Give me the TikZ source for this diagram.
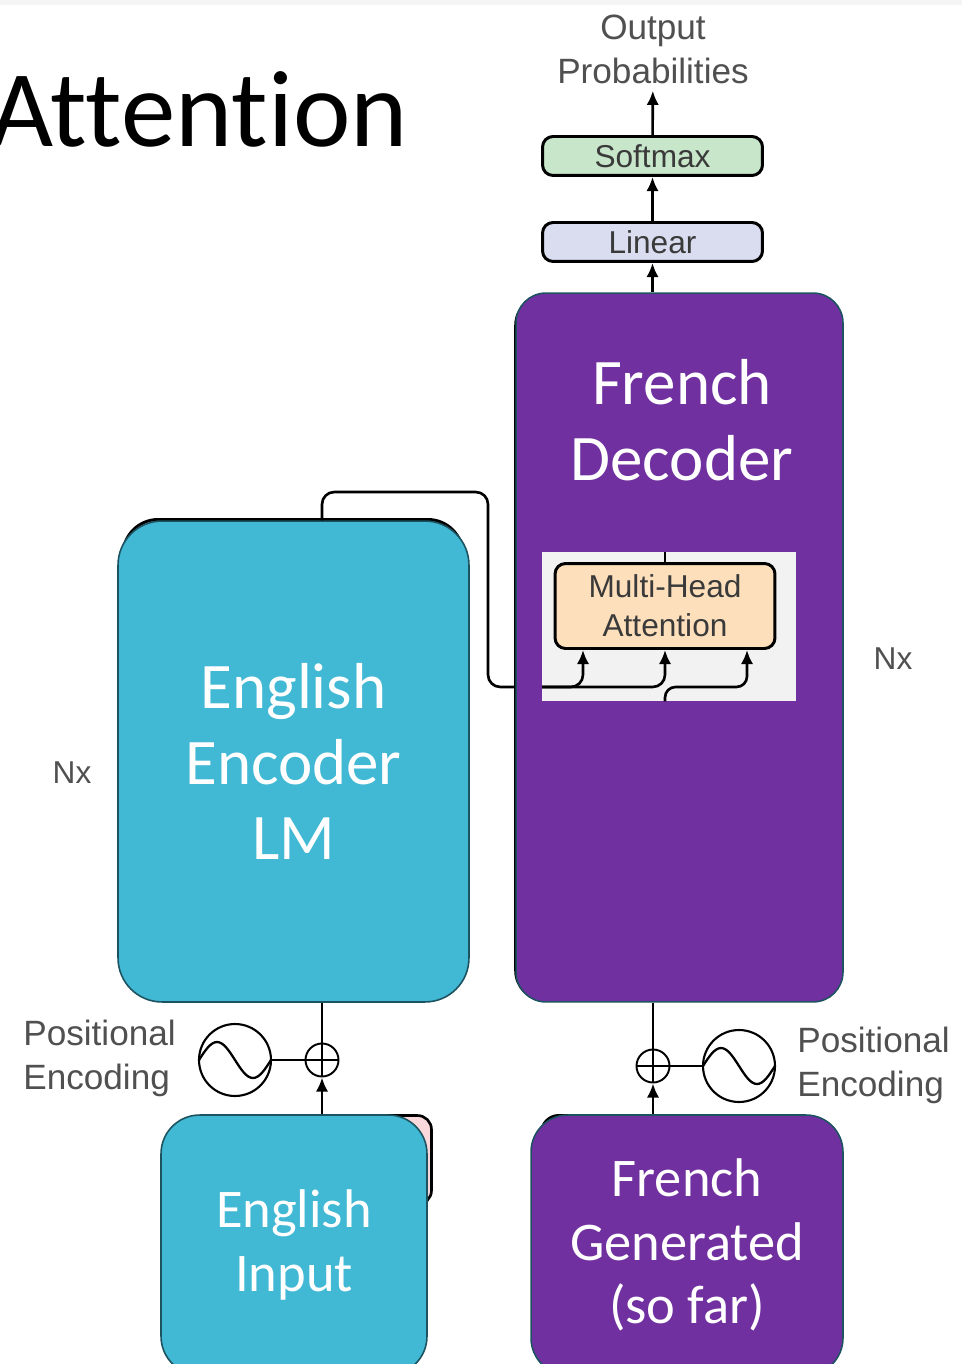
\documentclass[tikz,border=0pt]{standalone}
\usepackage{fontspec}
\setmainfont{Carlito}[Ligatures=NoCommon]
\newfontfamily\helv{Liberation Sans}
\usetikzlibrary{shapes,arrows.meta}
\usetikzlibrary{positioning}
\usetikzlibrary{calc}
\definecolor{enccol}{HTML}{41B8D4}
\definecolor{deccol}{HTML}{7030A0}
\definecolor{edgecol}{HTML}{1D5360}
\definecolor{softcol}{HTML}{C8E6CA}
\definecolor{lincol}{HTML}{DADDF0}
\definecolor{mhacol}{HTML}{FDE0BB}
\definecolor{panelcol}{HTML}{F2F2F2}
\definecolor{embcol}{HTML}{F9D9DB}
\definecolor{txtgray}{HTML}{3A3A3A}
\definecolor{labgray}{HTML}{505050}
\tikzstyle{block} = [draw=edgecol, line width=0.9pt, inner sep=0pt, align=center, text=white]
\tikzstyle{small} = [draw=black, line width=1.7pt, rounded corners=6pt, inner sep=0pt,
minimum width=4.40cm, minimum height=0.78cm, font=\helv\fontsize{18}{22}\selectfont, text=txtgray]
\tikzstyle{line} = [draw, -{Latex[length=8pt,width=7pt]}, line width=1.5pt]
\tikzstyle{wire} = [draw, line width=1.5pt]

\begin{document}
\begin{tikzpicture}[x=0.02cm, y=-0.02cm,
	adder/.style={draw, circle, line width=1.1pt, minimum size=0.66cm, inner sep=0pt,
		path picture={\draw[line width=1.1pt] (path picture bounding box.north) -- (path picture bounding box.south)
			(path picture bounding box.west) -- (path picture bounding box.east);}},
	wave/.style={draw, circle, line width=1.2pt, minimum size=1.44cm, inner sep=0pt,
		path picture={\draw[line width=1.3pt, shift={(path picture bounding box.center)}]
			(-0.72cm,0cm) sin (-0.36cm,0.36cm) cos (0cm,0cm) sin (0.36cm,-0.36cm) cos (0.72cm,0cm);}},
	label/.style={font=\helv\fontsize{20}{25}\selectfont, text=labgray, inner sep=0pt}]
	\useasboundingbox (0,0) rectangle (962,1364);
	\clip (0,0) rectangle (962,1364);
	\fill[white] (0,0) rectangle (962,1364);
	\fill[gray!8] (0,0) rectangle (962,5);
	\node[anchor=base east, inner sep=0pt, font=\fontsize{62}{72}\selectfont] (title) at (408,147) {Attention};
	%% Output stack
	\node[label, align=center] (outprob) at (653,49) {Output\\Probabilities};
	\node[small, fill=softcol] (softmax) at (652.5,156) {Softmax};
	\node[small, fill=lincol] (linear) at (652.5,242) {Linear};
	%% Encoder input side
	\node[adder] (encplus) at (322,1060) {};
	\node[wave] (encwave) at (235,1060) {};
	\node[label, align=left, anchor=west] (encpos) at (23,1058) {Positional\\Encoding};
	\node[draw=black, line width=1.5pt, fill=embcol, rounded corners=8pt,
		minimum width=4.3cm, minimum height=1.78cm] (encemb) at (324,1160) {};
	\node[block, fill=enccol, rounded corners=22pt, minimum width=5.32cm, minimum height=5.2cm,
		font=\fontsize{31}{36}\selectfont] (input) at (294,1245) {English\\Input};
	%% Decoder input side
	\node[adder] (decplus) at (653,1066) {};
	\node[wave] (decwave) at (739,1066) {};
	\node[label, align=left, anchor=west] (decpos) at (797,1065) {Positional\\Encoding};
	\node[draw=black, line width=1.5pt, fill=embcol, rounded corners=10pt, anchor=north west,
		minimum width=5cm, minimum height=1.8cm] (genemb) at (540,1114) {};
	\node[block, fill=deccol, rounded corners=21pt, minimum width=6.24cm, minimum height=5.2cm,
		font=\fontsize{31}{36}\selectfont] (gen) at (687,1245) {French\\Generated\\(so far)};
	%% Encoder
	\node[draw=black, line width=1.7pt, fill=white, rounded corners=20pt, anchor=north,
		minimum width=6.8cm, minimum height=8cm] (encback) at (293,518) {};
	\node[block, fill=enccol, rounded corners=25pt, minimum width=7.02cm, minimum height=9.62cm,
		font=\fontsize{37}{43}\selectfont] (enc) at (293.5,761.5) {English\\Encoder\\LM};
	\node[font=\helv\fontsize{18}{22}\selectfont, text=labgray] (encnx) at (72,773) {Nx};
	%% Encoder to attention (behind decoder)
	\coordinate (hop) at (488,492);
	\coordinate (mhain) at (542,687);
	\path [wire, rounded corners=7pt] (enc.north -| encplus) |- (hop) |- (mhain);
	%% Decoder
	\node[draw=black, line width=1.5pt, rounded corners=17pt,
		minimum width=6.5cm, minimum height=14.1cm] (decback) at (678,648) {};
	\node[block, fill=deccol, rounded corners=17pt, minimum width=6.54cm, minimum height=14.18cm] (dec) at (679.5,647.5) {};
	\node[text=white, align=center, inner sep=0pt, font=\fontsize{37}{43}\selectfont] (dectext) at (682,420) {French\\Decoder};
	\node[font=\helv\fontsize{18}{22}\selectfont, text=labgray] (decnx) at (893,659) {Nx};
	\node[fill=panelcol, minimum width=5.08cm, minimum height=2.98cm, inner sep=0pt] (panel) at (669,626.5) {};
	\node[draw=black, line width=1.7pt, rounded corners=6pt, fill=mhacol, inner sep=0pt,
		minimum width=4.40cm, minimum height=1.70cm, align=center,
		font=\helv\fontsize{18}{22}\selectfont, text=txtgray] (mha) at (665,606) {Multi-Head\\Attention};
	%% Flows
	\path [wire] (mha.north) -- (mha.north |- panel.north);
	\path [line, rounded corners=7pt] (mhain) -| ($(mha.south)+(-82,0)$);
	\path [line, rounded corners=7pt] (mhain) -| (mha.south);
	\path [line, rounded corners=6pt] (mha.south |- panel.south) |- ($(mha.south)+(40,37)$) -| ($(mha.south)+(82,0)$);
	\path [line] (dec.north -| linear) -- (linear);
	\path [line] (linear) -- (softmax);
	\path [line, shorten >=4pt] (softmax) -- (outprob);
	\path [wire] (enc.south -| encplus) -- (encplus);
	\path [wire] (encwave) -- (encplus);
	\path [line] (input.north -| encplus) -- (encplus);
	\path [wire] (dec.south -| decplus) -- (decplus);
	\path [wire] (decplus) -- (decwave);
	\path [line] (gen.north -| decplus) -- (decplus);
\end{tikzpicture}
\end{document}
